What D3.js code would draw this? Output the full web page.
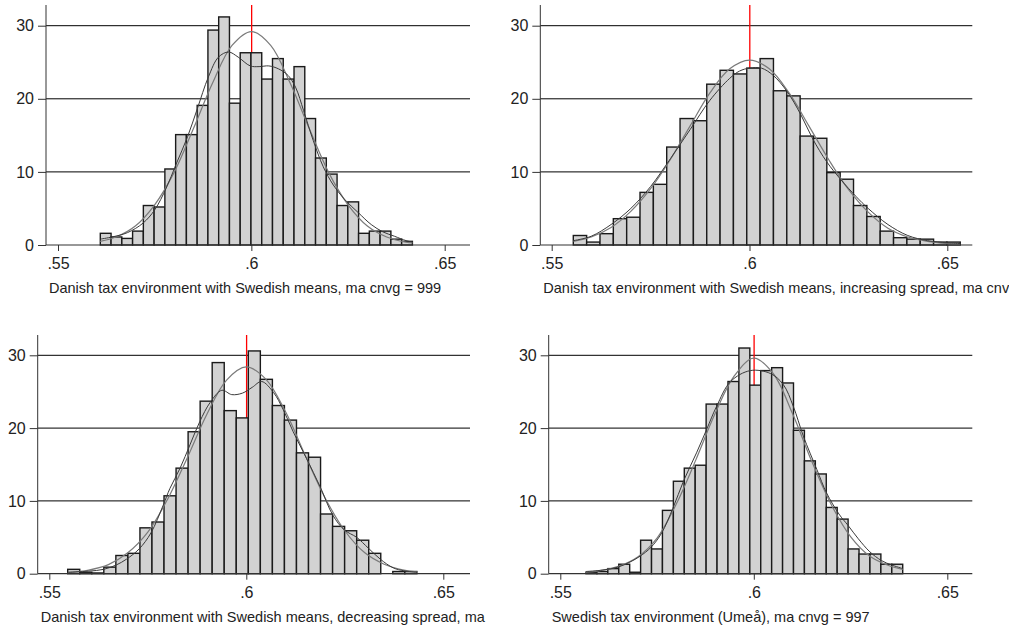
<!DOCTYPE html>
<html><head><meta charset="utf-8">
<script src="https://cdn.jsdelivr.net/npm/d3@7"></script>
<style>body{margin:0;background:#fff}svg{display:block}text{font-family:"Liberation Sans",Arial,sans-serif;fill:#222}</style>
</head><body><svg id="c" width="1016" height="630"></svg>
<script>
// ---------- data ----------
const yTicks = [0, 10, 20, 30];
const xTicks = [0.55, 0.6, 0.65];
const xTickLabels = [".55", ".6", ".65"];
const refValue = 0.6;
const titles = [
  "Danish tax environment with Swedish means, ma cnvg = 999",
  "Danish tax environment with Swedish means, increasing spread, ma cnvg",
  "Danish tax environment with Swedish means, decreasing spread, ma cnvg",
  "Swedish tax environment (Umeå), ma cnvg = 997"
];
const binStart = [0.56094, 0.55546, 0.55467, 0.55664];
const binWidth = [0.002783, 0.003373, 0.003056, 0.002822];

const dens1 = [1.6,1.1,0.9,1.9,5.4,5.2,10.4,15.1,15.1,19.1,29.4,31.2,19.4,26.3,26.3,22.7,25.5,22.7,24.4,17.3,11.9,9.7,5.4,5.9,1.6,1.9,1.9,0.8,0.5];
const dens2 = [1.3,0.4,1.55,3.6,3.8,7.2,8.3,13.4,17.3,17.0,22.0,23.9,23.4,24.2,25.5,21.1,20.4,14.9,14.6,9.9,9.0,5.4,3.9,1.9,1.0,0.8,0.8,0.4,0.4];
const dens3 = [0.6,0.2,0.1,0.9,2.5,2.8,6.3,7.1,10.7,14.5,19.5,23.7,29.0,22.4,21.4,30.6,26.7,23.1,21.1,16.6,16.0,8.2,6.5,5.9,4.6,2.8,0,0.3,0.3];
const dens4 = [0.2,0.3,0.7,1.3,0.2,4.6,3.4,8.7,12.7,14.5,14.9,23.3,23.3,26.4,31.0,25.9,27.9,28.3,26.2,19.7,15.5,13.7,9.1,7.5,3.4,2.7,2.7,1.3,1.3];

const normal1 = [[0.5609,0.5],[0.565,1.1],[0.570,2.6],[0.575,5.5],[0.580,9.9],[0.585,15.9],[0.590,22.2],[0.595,27.3],[0.600,29.2],[0.605,27.3],[0.610,22.2],[0.615,15.9],[0.620,9.9],[0.625,5.5],[0.630,2.6],[0.635,1.1],[0.640,0.4],[0.6417,0.3]];
const kernel1 = [[0.5609,0.8],[0.564,1.1],[0.568,1.7],[0.572,3.0],[0.575,4.8],[0.578,7.8],[0.5805,11.0],[0.5835,14.8],[0.586,18.6],[0.5889,23.0],[0.5915,25.7],[0.5941,26.4],[0.5966,25.7],[0.5997,24.5],[0.602,24.4],[0.6045,24.5],[0.607,24.1],[0.6095,23.2],[0.6115,21.5],[0.6135,18.4],[0.616,14.3],[0.6186,10.7],[0.6212,8.2],[0.624,6.3],[0.6277,4.4],[0.631,2.8],[0.634,1.8],[0.637,1.2],[0.640,0.6],[0.6417,0.4]];

const normal2 = [[0.5555,0.5],[0.560,1.1],[0.565,2.4],[0.570,4.6],[0.575,7.7],[0.580,11.7],[0.585,16.3],[0.590,20.8],[0.595,24.1],[0.600,25.3],[0.605,24.1],[0.610,20.8],[0.615,16.3],[0.620,11.7],[0.625,7.6],[0.630,4.5],[0.635,2.3],[0.640,1.1],[0.645,0.5],[0.650,0.2],[0.6533,0.1]];
const kernel2 = [[0.5555,0.6],[0.560,1.2],[0.565,2.8],[0.570,5.0],[0.575,8.0],[0.580,11.8],[0.585,15.8],[0.590,19.8],[0.595,22.8],[0.5975,23.8],[0.600,24.2],[0.603,24.2],[0.606,23.2],[0.6095,21.0],[0.613,17.8],[0.616,14.5],[0.6195,11.4],[0.623,9.0],[0.627,6.6],[0.630,5.0],[0.635,2.8],[0.640,1.3],[0.645,0.6],[0.650,0.3],[0.6533,0.2]];

const normal3 = [[0.5547,0.15],[0.560,0.5],[0.565,1.25],[0.570,2.9],[0.575,5.7],[0.580,10.2],[0.585,15.9],[0.590,21.9],[0.595,26.6],[0.600,28.4],[0.605,26.7],[0.610,22.2],[0.615,16.2],[0.620,10.4],[0.625,5.9],[0.630,2.9],[0.635,1.3],[0.640,0.5],[0.6433,0.25]];
const kernel3 = [[0.5547,0.2],[0.560,0.35],[0.5638,0.6],[0.567,1.2],[0.5696,2.0],[0.5728,3.4],[0.5758,5.6],[0.5789,9.4],[0.5806,11.7],[0.5832,14.5],[0.5857,17.7],[0.5882,20.9],[0.5908,23.5],[0.5938,25.2],[0.5963,24.6],[0.599,24.8],[0.6015,25.6],[0.6039,26.4],[0.6069,24.9],[0.6094,22.5],[0.6119,19.5],[0.6153,15.8],[0.6187,12.0],[0.622,8.0],[0.6249,6.0],[0.628,5.0],[0.631,3.5],[0.634,2.0],[0.6373,0.8],[0.640,0.4],[0.6433,0.2]];

const normal4 = [[0.5566,0.2],[0.560,0.4],[0.565,1.0],[0.570,2.3],[0.575,4.9],[0.580,9.6],[0.585,15.6],[0.590,22.0],[0.595,27.2],[0.600,29.6],[0.605,27.5],[0.610,22.0],[0.615,15.4],[0.620,9.5],[0.625,5.1],[0.630,2.4],[0.635,1.1],[0.6385,0.6]];
const kernel4 = [[0.5566,0.3],[0.561,0.5],[0.5649,0.9],[0.568,1.6],[0.5706,2.4],[0.5734,3.6],[0.5762,5.6],[0.5791,9.0],[0.5819,12.8],[0.5852,16.6],[0.5878,19.8],[0.5904,23.0],[0.594,26.4],[0.5991,27.9],[0.6043,27.5],[0.6076,26.0],[0.6102,23.0],[0.6128,18.9],[0.6163,14.3],[0.6188,11.1],[0.622,8.2],[0.6244,6.6],[0.627,4.8],[0.630,3.0],[0.633,1.8],[0.6356,1.2],[0.6385,0.7]];

const densities = [dens1, dens2, dens3, dens4];
const normals = [normal1, normal2, normal3, normal4];
const kernels = [kernel1, kernel2, kernel3, kernel4];

// ---------- layout ----------
const frames = [
  {left:46,    right:470,   x55:58,    x65:444.7, y0:245,   y30:25.7,  top:5,   clipR:495},
  {left:540.3, right:972.3, x55:551.7, x65:947.3, y0:245,   y30:25.7,  top:5,   clipR:1009},
  {left:37.7,  right:470,   x55:49.3,  x65:443.3, y0:573.7, y30:355.3, top:335, clipR:487},
  {left:548.7, right:972.3, x55:560.3, x65:947.3, y0:573.7, y30:355.3, top:335, clipR:1016}
];

const svg = d3.select("#c");
svg.append("rect").attr("width",1016).attr("height",630).attr("fill","#fff");
const defs = svg.append("defs");

frames.forEach((f, p) => {
  const xs = d3.scaleLinear().domain([0.55, 0.65]).range([f.x55, f.x65]);
  const ys = d3.scaleLinear().domain([0, 30]).range([f.y0, f.y30]);
  const g = svg.append("g");

  // gridlines
  g.selectAll("line.grid").data(yTicks.filter(d => d > 0)).join("line")
    .attr("x1", f.left).attr("x2", f.right)
    .attr("y1", d => ys(d)).attr("y2", d => ys(d))
    .attr("stroke", "#000").attr("stroke-width", 1);

  // y axis
  const yAxis = d3.axisLeft(ys).tickValues(yTicks).tickFormat(d3.format("d")).tickSize(8).tickPadding(4);
  const ya = g.append("g").attr("transform", `translate(${f.left},0)`).call(yAxis);
  ya.select(".domain").remove();
  ya.selectAll(".tick line").attr("stroke", "#333");
  ya.selectAll(".tick text").attr("font-size", 16).attr("fill", "#222")
    .style("font-family", '"Liberation Sans", Arial, sans-serif');
  g.append("line").attr("x1", f.left).attr("x2", f.left).attr("y1", f.top).attr("y2", f.y0)
    .attr("stroke", "#333").attr("stroke-width", 1);

  // reference line
  const rx = xs(refValue) + 0.3;
  g.append("line").attr("x1", rx).attr("x2", rx)
    .attr("y1", f.top).attr("y2", f.y0).attr("stroke", "#ff0000").attr("stroke-width", 1.3);

  // bars
  const dens = densities[p];
  const w = binWidth[p], s0 = binStart[p];
  g.selectAll("rect.bar").data(dens.map((h, i) => ({h, i})).filter(d => d.h > 0)).join("rect")
    .attr("x", d => xs(s0 + d.i * w))
    .attr("width", d => xs(s0 + (d.i + 1) * w) - xs(s0 + d.i * w))
    .attr("y", d => ys(d.h))
    .attr("height", d => f.y0 - ys(d.h))
    .attr("fill", "#d2d2d2").attr("stroke", "#1a1a1a").attr("stroke-width", 1.4);

  // curves
  const line = d3.line().x(d => xs(d[0])).y(d => ys(d[1])).curve(d3.curveCatmullRom.alpha(0.5));
  g.append("path").attr("d", line(normals[p])).attr("fill", "none").attr("stroke", "#7a7a7a").attr("stroke-width", 1.2);
  g.append("path").attr("d", line(kernels[p])).attr("fill", "none").attr("stroke", "#3a3a3a").attr("stroke-width", 1);

  // x axis
  const xAxis = d3.axisBottom(xs).tickValues(xTicks).tickFormat((d, i) => xTickLabels[i]).tickSize(6).tickPadding(7);
  const xa = g.append("g").attr("transform", `translate(0,${f.y0})`).call(xAxis);
  xa.select(".domain").remove();
  xa.selectAll(".tick line").attr("stroke", "#333");
  xa.selectAll(".tick text").attr("font-size", 16).attr("fill", "#222")
    .style("font-family", '"Liberation Sans", Arial, sans-serif');
  g.append("line").attr("x1", f.left).attr("x2", f.right).attr("y1", f.y0).attr("y2", f.y0)
    .attr("stroke", "#333").attr("stroke-width", 1.2);

  // title (clipped like the original)
  defs.append("clipPath").attr("id", "clip" + p).append("rect")
    .attr("x", f.left - 20).attr("y", f.y0).attr("width", f.clipR - f.left + 20).attr("height", 80);
  g.append("text").attr("clip-path", `url(#clip${p})`)
    .attr("x", f.left + 3).attr("y", f.y0 + 48)
    .attr("font-size", 14.5).text(titles[p]);
});
</script></body></html>
